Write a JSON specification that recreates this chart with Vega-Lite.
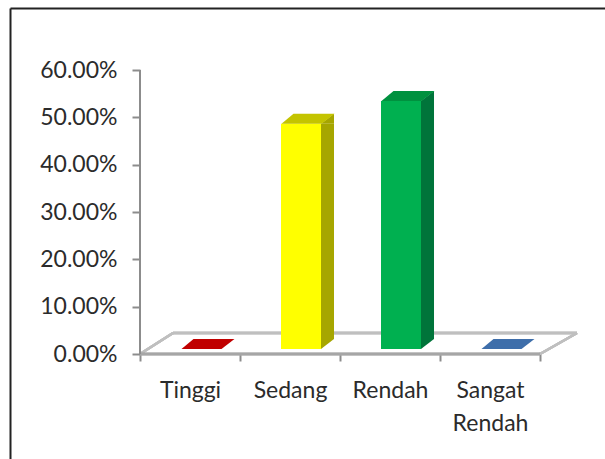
{
  "$schema": "https://vega.github.io/schema/vega-lite/v6.json",
  "width": 595,
  "height": 451,
  "autosize": "none",
  "padding": {"left": 10, "top": 8, "right": 0, "bottom": 0},
  "background": "white",
  "config": {
    "view": {"stroke": "transparent"},
    "font": "Lato",
    "axis": {"labelFont": "Lato", "labelFontSize": 23, "labelColor": "#2b2b2b", "grid": false}
  },
  "data": {
    "values": [
      {"cat": "Tinggi", "value": 0},
      {"cat": "Sedang", "value": 0.476},
      {"cat": "Rendah", "value": 0.524},
      {"cat": "Sangat Rendah", "value": 0}
    ]
  },
  "resolve": {"scale": {"color": "independent"}, "axis": {"x": "independent", "y": "independent"}},
  "layer": [
    {
      "mark": {"type": "rule", "color": "#BFBFBF", "strokeWidth": 2.5, "xOffset": -17, "x2Offset": 87, "yOffset": -21, "y2Offset": -21},
      "encoding": {
        "x": {"datum": "Tinggi", "type": "nominal", "scale": {"type": "band", "domain": ["Tinggi", "Sedang", "Rendah", "Sangat Rendah"], "paddingInner": 0, "paddingOuter": 0.975, "align": 0.6667}, "axis": {"orient": "top", "offset": 0, "domain": true, "domainColor": "#222222", "domainWidth": 2, "ticks": false, "labels": false, "title": null}},
        "x2": {"datum": "Sangat Rendah"},
        "y": {"datum": 0, "type": "quantitative", "scale": {"domain": [-0.22183, 0.73099], "nice": false, "zero": false}, "axis": {"orient": "left", "offset": 0, "domain": true, "domainColor": "#222222", "domainWidth": 2, "ticks": false, "labels": false, "title": null}}
      }
    },
    {
      "mark": {"type": "rule", "color": "#BFBFBF", "strokeWidth": 2.5, "xOffset": -50, "x2Offset": -17, "y2Offset": -21},
      "encoding": {
        "x": {"datum": "Tinggi", "type": "nominal", "axis": null},
        "x2": {"datum": "Tinggi"},
        "y": {"datum": 0, "type": "quantitative", "axis": null},
        "y2": {"datum": 0}
      }
    },
    {
      "mark": {"type": "rule", "color": "#BFBFBF", "strokeWidth": 2.5, "xOffset": 50, "x2Offset": 87, "y2Offset": -21},
      "encoding": {
        "x": {"datum": "Sangat Rendah", "type": "nominal", "axis": null},
        "x2": {"datum": "Sangat Rendah"},
        "y": {"datum": 0, "type": "quantitative", "axis": null},
        "y2": {"datum": 0}
      }
    },
    {
      "mark": {"type": "rule", "color": "#A6A6A6", "strokeWidth": 2.5, "xOffset": -50, "x2Offset": 50},
      "encoding": {
        "x": {"datum": "Tinggi", "type": "nominal", "axis": null},
        "x2": {"datum": "Sangat Rendah"},
        "y": {"datum": 0, "type": "quantitative", "axis": null}
      }
    },
    {
      "mark": {"type": "rule", "color": "#8C8C8C", "strokeWidth": 2, "xOffset": -50},
      "encoding": {
        "x": {"datum": "Tinggi", "type": "nominal", "axis": null},
        "y": {"datum": 0, "type": "quantitative", "axis": null},
        "y2": {"datum": 0.6}
      }
    },
    {
      "transform": [{"filter": "datum.value > 0"}],
      "mark": {"type": "bar", "width": 13, "xOffset": 37.5, "yOffset": -5, "y2Offset": -15},
      "encoding": {
        "x": {"field": "cat", "type": "nominal", "axis": null},
        "y": {"field": "value", "type": "quantitative", "axis": null},
        "y2": {"datum": 0},
        "color": {"field": "cat", "type": "nominal", "scale": {"domain": ["Tinggi", "Sedang", "Rendah", "Sangat Rendah"], "range": ["#8B0000", "#A6A600", "#00743A", "#2E5A8C"]}, "legend": null}
      }
    },
    {
      "transform": [{"filter": "datum.value > 0"}],
      "mark": {"type": "point", "shape": "M0.509,0.189L1,-0.189L1,0.189Z", "size": 2809, "filled": true, "opacity": 1, "strokeWidth": 0, "xOffset": 17.5, "yOffset": -10},
      "encoding": {
        "x": {"field": "cat", "type": "nominal", "axis": null},
        "y": {"field": "value", "type": "quantitative", "axis": null},
        "color": {"field": "cat", "type": "nominal", "scale": {"domain": ["Tinggi", "Sedang", "Rendah", "Sangat Rendah"], "range": ["#8B0000", "#A6A600", "#00743A", "#2E5A8C"]}, "legend": null}
      }
    },
    {
      "transform": [{"filter": "datum.value > 0"}],
      "mark": {"type": "point", "shape": "M0.509,-0.189L0.509,0.189L1,-0.189Z", "size": 2809, "filled": true, "opacity": 1, "strokeWidth": 0, "xOffset": 17.5, "yOffset": -10},
      "encoding": {
        "x": {"field": "cat", "type": "nominal", "axis": null},
        "y": {"datum": 0, "type": "quantitative", "axis": null},
        "color": {"field": "cat", "type": "nominal", "scale": {"domain": ["Tinggi", "Sedang", "Rendah", "Sangat Rendah"], "range": ["#8B0000", "#A6A600", "#00743A", "#2E5A8C"]}, "legend": null}
      }
    },
    {
      "mark": {"type": "bar", "width": 40, "xOffset": 11, "yOffset": -5, "y2Offset": -5},
      "encoding": {
        "x": {"field": "cat", "type": "nominal", "axis": {"orient": "bottom", "offset": -105, "domain": false, "ticks": true, "tickBand": "extent", "tickSize": 7, "tickColor": "#8C8C8C", "tickWidth": 2, "labelAngle": 0, "labelPadding": 18, "labelLineHeight": 33, "labelBaseline": "top", "title": null, "labelExpr": "datum.label == 'Sangat Rendah' ? ['Sangat', 'Rendah'] : datum.label"}},
        "y": {"field": "value", "type": "quantitative", "axis": {"orient": "left", "offset": -130, "domain": false, "values": [0, 0.1, 0.2, 0.3, 0.4, 0.5, 0.6], "format": ".2%", "tickSize": 8, "tickColor": "#8C8C8C", "tickWidth": 2, "labelPadding": 15, "title": null}},
        "y2": {"datum": 0},
        "color": {"field": "cat", "type": "nominal", "scale": {"domain": ["Tinggi", "Sedang", "Rendah", "Sangat Rendah"], "range": ["#C00000", "#FFFF00", "#00B050", "#4F81BD"]}, "legend": null}
      }
    },
    {
      "mark": {"type": "point", "shape": "M-1,0.189L0.509,0.189L1,-0.189L-0.547,-0.189Z", "size": 2809, "filled": true, "opacity": 1, "strokeWidth": 0, "xOffset": 18, "yOffset": -10},
      "encoding": {
        "x": {"field": "cat", "type": "nominal", "axis": null},
        "y": {"field": "value", "type": "quantitative", "axis": null},
        "color": {"field": "cat", "type": "nominal", "scale": {"domain": ["Tinggi", "Sedang", "Rendah", "Sangat Rendah"], "range": ["#C00000", "#C4C400", "#00913F", "#3E6EAA"]}, "legend": null}
      }
    }
  ]
}
